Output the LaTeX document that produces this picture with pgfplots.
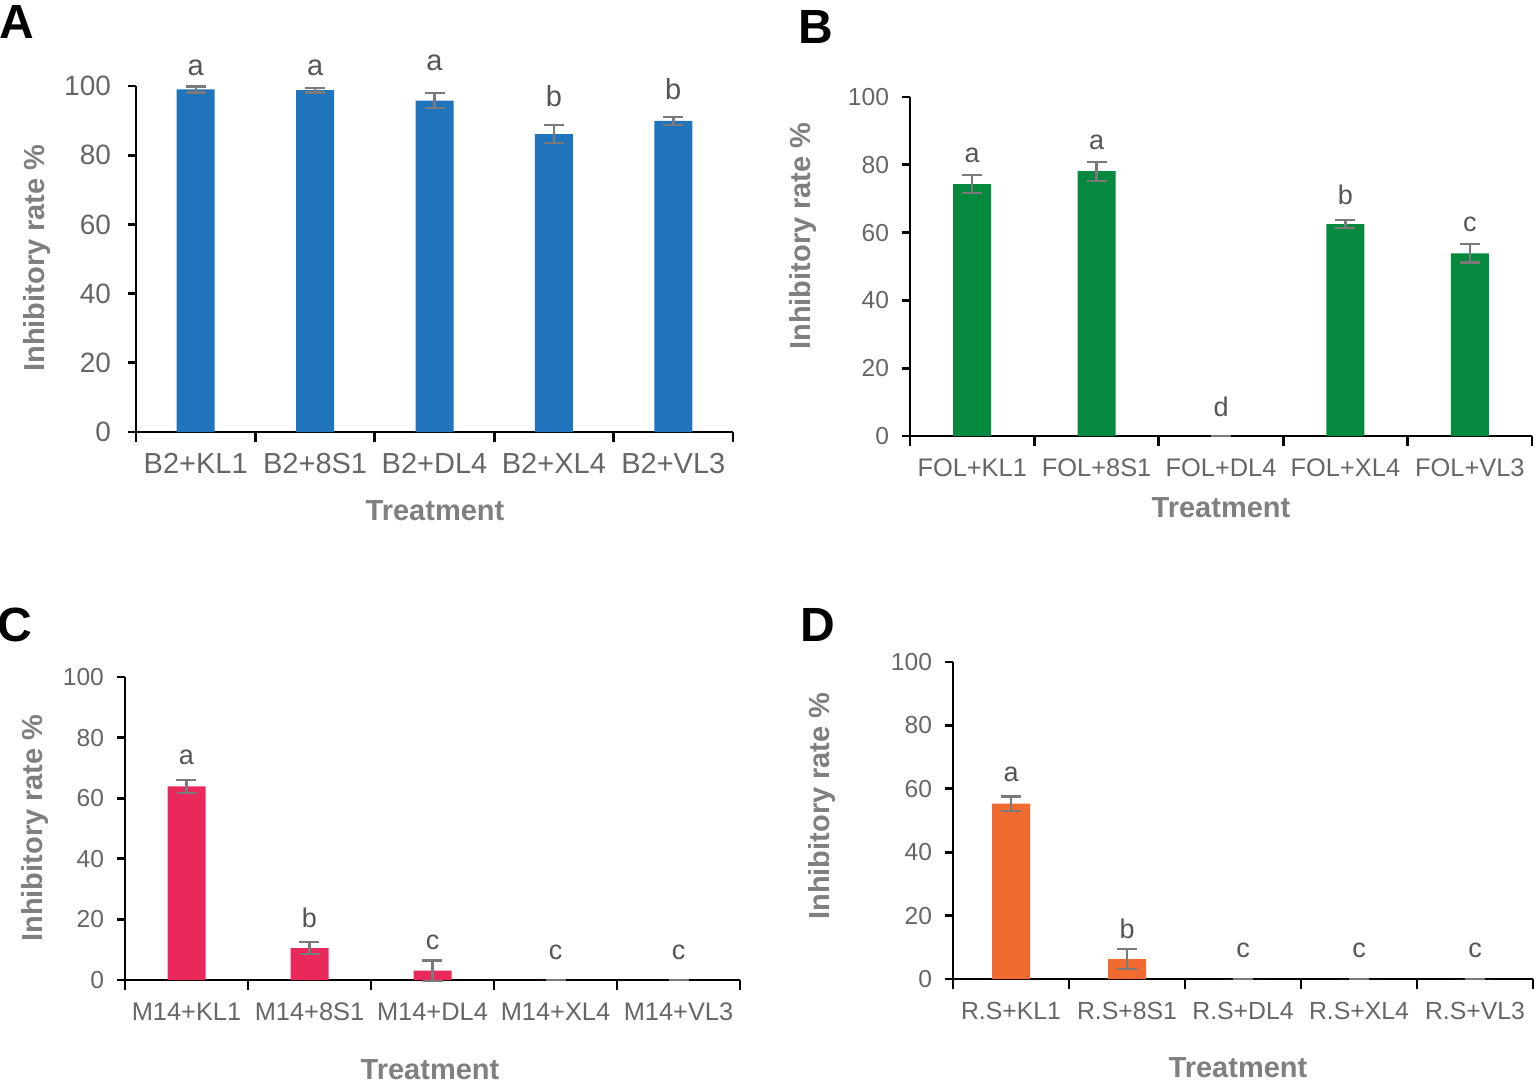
\documentclass[border=0pt]{standalone}
\usepackage{pgfplots}
\pgfplotsset{compat=1.18}
\usepackage{fontspec}
\setmainfont{Liberation Sans}

\definecolor{barA}{HTML}{1F74BB}
\definecolor{barB}{HTML}{04893E}
\definecolor{barC}{HTML}{EB285A}
\definecolor{barD}{HTML}{F16A2F}
\definecolor{errgray}{HTML}{7A7A7A}
\definecolor{ticktext}{HTML}{666666}
\definecolor{labtext}{HTML}{7F7F7F}
\definecolor{lettext}{HTML}{555555}

\pgfplotsset{
  panel/.style={
    scale only axis, anchor=south west, clip=false,
    xmin=-0.5, xmax=4.5, ymin=0, ymax=100,
    axis x line*=bottom, axis y line*=left,
    axis line style={line width=1.4pt, black},
    xtick={0,...,4}, xtick style={draw=none},
    extra x ticks={-0.5,0.5,1.5,2.5,3.5,4.5},
    extra x tick labels={},
    extra x tick style={xtick style={draw=black, line width=1.4pt}, major tick length=5pt, tick align=outside},
    ytick={0,20,...,100}, tick align=outside, major tick length=4pt,
    ytick style={line width=1.4pt, black},
    tick label style={text=ticktext},
    /pgf/number format/assume math mode=true,
    xticklabel style={yshift=-4pt},
    yticklabel style={xshift=-3pt},
  },
  bars/.style={
    ybar, bar width=19pt, fill=#1, draw=none,
    error bars/.cd, y dir=both, y explicit,
    error bar style={line width=1.2pt, errgray},
    error mark options={rotate=90, mark size=5pt, line width=1.2pt, errgray},
  },
  letters/.style={
    draw=none, mark=none, nodes near coords, point meta=explicit symbolic,
    nodes near coords style={anchor=center, text=lettext, font=\fontsize{#1}{#1}\selectfont},
  },
}

\begin{document}
\begin{tikzpicture}[x=0.5pt, y=-0.5pt]
\useasboundingbox (0,0) rectangle (1535,1085);

% A
\begin{axis}[panel, at={(68pt,-216pt)}, width=298.5pt, height=173pt,
  xticklabels={B2+KL1,B2+8S1,B2+DL4,B2+XL4,B2+VL3},
  xticklabel style={font=\fontsize{14.5}{16}\selectfont, yshift=1pt},
  yticklabel style={font=\fontsize{14}{16}\selectfont, xshift=-2pt}]
\addplot[bars=barA] coordinates {
  (0,99.0) +- (0,0.9)
  (1,98.8) +- (0,0.7)
  (2,95.8) +- (0,2.2)
  (3,86.1) +- (0,2.6)
  (4,89.9) +- (0,1.1)
};
\addplot[letters=14.5] table[meta=lab] {
x y lab
0 105.2 a
1 105.2 a
2 106.6 a
3 97.1 b
4 99.1 b
};
\end{axis}

% B
\begin{axis}[panel, at={(455pt,-218pt)}, width=311pt, height=169.5pt,
  xticklabels={FOL+KL1,FOL+8S1,FOL+DL4,FOL+XL4,FOL+VL3},
  xticklabel style={font=\fontsize{12.7}{14}\selectfont},
  yticklabel style={font=\fontsize{12.3}{14}\selectfont}]
\addplot[bars=barB] coordinates {
  (0,74.3) +- (0,2.7)
  (1,78.1) +- (0,2.8)
  (2,0) +- (0,0)
  (3,62.5) +- (0,1.2)
  (4,53.9) +- (0,2.7)
};
\addplot[letters=13.5] table[meta=lab] {
x y lab
0 82.8 a
1 86.6 a
2 8.6 d
3 71.1 b
4 62.3 c
};
\end{axis}

% C
\begin{axis}[panel, at={(62.5pt,-490pt)}, width=307.5pt, height=151.5pt,
  xticklabels={M14+KL1,M14+8S1,M14+DL4,M14+XL4,M14+VL3},
  xticklabel style={font=\fontsize{12.7}{14}\selectfont},
  yticklabel style={font=\fontsize{12.3}{14}\selectfont}]
\addplot[bars=barC] coordinates {
  (0,63.9) +- (0,2.1)
  (1,10.5) +- (0,2.0)
  (2,3.1) +- (0,3.4)
  (3,0) +- (0,0)
  (4,0) +- (0,0)
};
\addplot[letters=13.5] table[meta=lab] {
x y lab
0 73.4 a
1 20.4 b
2 12.4 c
3 9.1 c
4 9.1 c
};
\end{axis}

% D
\begin{axis}[panel, at={(476.5pt,-489.5pt)}, width=290pt, height=158.5pt,
  xticklabels={R.S+KL1,R.S+8S1,R.S+DL4,R.S+XL4,R.S+VL3},
  xticklabel style={font=\fontsize{12.4}{14}\selectfont},
  yticklabel style={font=\fontsize{12.3}{14}\selectfont}]
\addplot[bars=barD] coordinates {
  (0,55.3) +- (0,2.3)
  (1,6.3) +- (0,3.2)
  (2,0) +- (0,0)
  (3,0) +- (0,0)
  (4,0) +- (0,0)
};
\addplot[letters=13.5] table[meta=lab] {
x y lab
0 64.6 a
1 15.9 b
2 9.0 c
3 9.0 c
4 9.0 c
};
\end{axis}

% axis titles and panel letters
\tikzset{ylab/.style={rotate=90, text=labtext, font=\bfseries\fontsize{14.5}{16}\selectfont},
         xlab/.style={text=labtext, font=\bfseries\fontsize{14.5}{16}\selectfont},
         plab/.style={text=black, font=\bfseries\fontsize{24}{26}\selectfont}}
\node[ylab] at (37,258) {Inhibitory rate \%};
\node[ylab] at (803,236) {Inhibitory rate \%};
\node[ylab] at (35,828) {Inhibitory rate \%};
\node[ylab] at (822,806) {Inhibitory rate \%};
\node[xlab] at (435,511) {Treatment};
\node[xlab] at (1221,508) {Treatment};
\node[xlab] at (430,1070) {Treatment};
\node[xlab] at (1238,1068) {Treatment};
\node[plab] at (17,22) {A};
\node[plab] at (816,27) {B};
\node[plab] at (15,625) {C};
\node[plab] at (818,625) {D};
\end{tikzpicture}
\end{document}
